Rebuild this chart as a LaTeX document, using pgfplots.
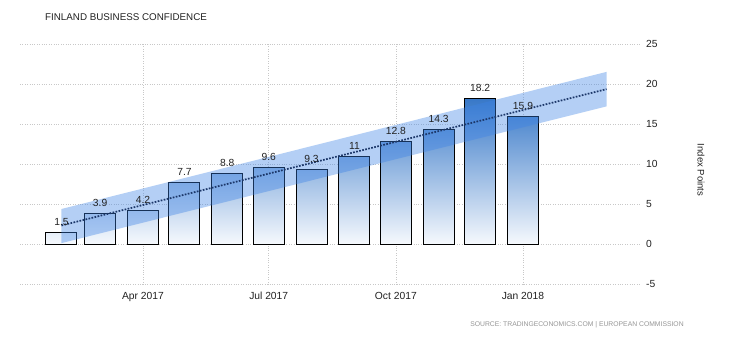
\documentclass[border=0pt]{standalone}
\usepackage{fontspec}
\setmainfont{Liberation Sans}
\usepackage{pgfplots}
\pgfplotsset{compat=1.18}
\definecolor{barTop}{RGB}{55,120,200}
\definecolor{barMid}{RGB}{140,172,212}
\definecolor{barBot}{RGB}{246,249,253}
\definecolor{bandBlue}{RGB}{60,130,230}
\definecolor{trendCol}{RGB}{28,55,105}
\definecolor{gridCol}{RGB}{200,200,200}
\definecolor{txt}{RGB}{34,34,34}
\begin{document}
\begin{tikzpicture}[x=1pt,y=1pt]
\path[use as bounding box, fill=white] (0,0) rectangle (730,340);
\node[anchor=west, inner sep=0pt, text=txt, font=\fontsize{9.8}{11}\selectfont] at (45,323) {FINLAND BUSINESS CONFIDENCE};
\begin{axis}[
  at={(20pt,55.6pt)}, anchor=south west,
  scale only axis, width=620pt, height=240.6pt,
  xmin=-30, xmax=418.7, ymin=-5, ymax=25,
  axis line style={draw=none},
  major tick style={draw=none},
  xtick={59,150,242,334},
  xticklabels={Apr 2017,Jul 2017,Oct 2017,Jan 2018},
  ytick={-5,0,5,10,15,20,25},
  yticklabel pos=right,
  /pgf/number format/assume math mode=true,
  xticklabel style={anchor=base, inner sep=0pt, yshift=-15pt, text=txt, font=\fontsize{10.3}{12}\selectfont},
  yticklabel style={anchor=west, inner sep=0pt, xshift=6pt, text=txt, font=\fontsize{10.3}{12}\selectfont},
  grid=major,
  major grid style={gridCol, dotted, line width=0.6pt},
  clip=false,
]
\addplot[ybar, bar width=31pt, draw=black, line width=1pt,
  top color=barTop, middle color=barMid, bottom color=barBot,
  nodes near coords,
  every node near coord/.append style={anchor=base, inner sep=0pt, yshift=7pt, text=txt, font=\fontsize{10.3}{12}\selectfont, /pgf/number format/assume math mode=true, /pgf/number format/fixed},
] coordinates {
(0,1.5) (28,3.9) (59,4.2) (89,7.7) (120,8.8) (150,9.6)
(181,9.3) (212,11) (242,12.8) (273,14.3) (303,18.2) (334,15.9)
};
\addplot[draw=none, fill=bandBlue, fill opacity=0.38] coordinates {
(0,4.4) (394.5,21.5) (394.5,17.2) (0,0.15)
} -- cycle;
\addplot[trendCol, line width=1.7pt, dash pattern=on 1.7pt off 1.4pt] coordinates {
(0,2.35) (394.5,19.35)
};
\end{axis}
\node[rotate=-90, inner sep=0pt, text=txt, font=\fontsize{9.5}{11}\selectfont] at (701,170) {Index Points};
\node[inner sep=0pt, text={rgb,255:red,150;green,150;blue,150}, font=\fontsize{6.8}{8}\selectfont] at (577,15) {SOURCE: TRADINGECONOMICS.COM \textbar{} EUROPEAN COMMISSION};
\end{tikzpicture}
\end{document}
